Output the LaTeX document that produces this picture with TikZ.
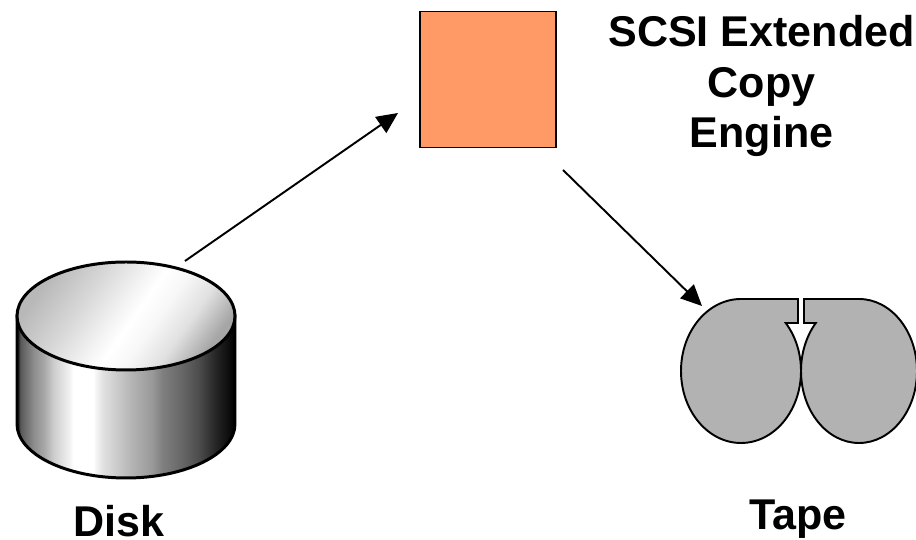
\documentclass[tikz,border=0pt]{standalone}
\usepackage{fontspec}
\setmainfont{Liberation Sans}
\usetikzlibrary{arrows.meta}
\pgfdeclarehorizontalshading{diskside}{100bp}{
	color(0bp)=(black); color(25bp)=(black); color(25.8bp)=(black!65); color(28.8bp)=(black!45);
	color(31.1bp)=(black!35); color(33.3bp)=(black!20); color(37.1bp)=(black!5); color(37.9bp)=(white);
	color(42.4bp)=(white); color(44.7bp)=(black!12); color(47bp)=(black!18); color(51.5bp)=(black!30);
	color(56bp)=(black!40); color(58.3bp)=(black!50); color(62.9bp)=(black!60); color(66.7bp)=(black!70);
	color(70.5bp)=(black!85); color(73.5bp)=(black!95); color(75bp)=(black); color(100bp)=(black)}
\pgfdeclarehorizontalshading{disktop}{100bp}{
	color(0bp)=(black!28); color(25bp)=(black!28); color(38bp)=(black!15); color(47bp)=(black!5);
	color(52bp)=(white); color(58bp)=(black!3); color(66bp)=(black!12); color(75bp)=(black!35);
	color(100bp)=(black!35)}
\definecolor{EngineOrange}{RGB}{255,153,102}
\definecolor{TapeGray}{RGB}{178,178,178}
\tikzset{
	label text/.style={font=\fontsize{24.5}{29}\selectfont\bfseries, align=center, inner sep=0pt},
	link/.style={line width=1.1pt, -{Triangle[length=12pt,width=11pt]}},
	tape reel/.style={draw, fill=TapeGray, line width=1.1pt},
	disk edge/.style={draw, line width=1.7pt}
}

\begin{document}
\begin{tikzpicture}[x=0.02cm,y=0.02cm]

	\useasboundingbox (0,0) rectangle (916,540);

	% disk
	\path[disk edge, shading=diskside] (17,224) -- (17,116) arc[start angle=180,end angle=360,x radius=109,y radius=54] -- (235,224) -- cycle;
	\path[disk edge, shading=disktop, shading angle=-35] (126,224) ellipse[x radius=109,y radius=54];
	\node[label text, anchor=base] (disklabel) at (119,3) {Disk};

	% tape
	\path[tape reel] (798,241) -- (741,241) arc[start angle=90,end angle=401.8,x radius=60,y radius=72] -- (798,217) -- cycle;
	\path[tape reel] (804,241) -- (859,241) arc[start angle=90,end angle=-221.8,x radius=58,y radius=72] -- (804,217) -- cycle;
	\node[label text, anchor=base] (tapelabel) at (798,10) {Tape};

	% copy engine
	\node[draw, fill=EngineOrange, line width=0.8pt, minimum size=77.5pt, inner sep=0pt] (engine) at (488,460.5) {};
	\node[label text, anchor=base] (enginelabel) at (761.5,392) {SCSI Extended\\Copy\\Engine};

	\coordinate (diskout) at (185,279);
	\coordinate (enginein) at (398,427);
	\coordinate (engineout) at (563,370);
	\coordinate (tapein) at (702,234);

	\draw[link] (diskout) -- (enginein);
	\draw[link] (engineout) -- (tapein);

\end{tikzpicture}
\end{document}
